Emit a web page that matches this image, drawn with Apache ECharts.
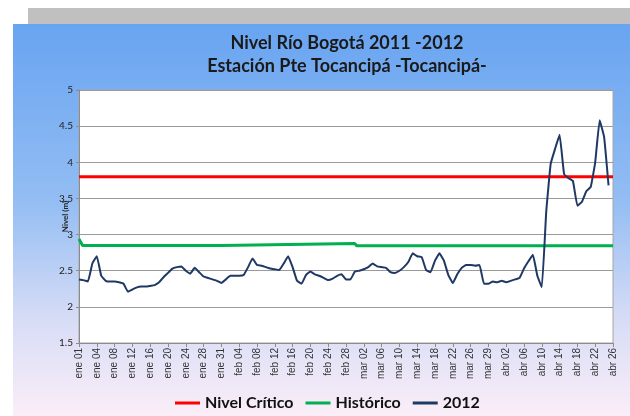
<!DOCTYPE html>
<html lang="es">
<head>
<meta charset="utf-8">
<title>Nivel Río Bogotá 2011 -2012</title>
<script src="https://cdn.jsdelivr.net/npm/echarts@6/dist/echarts.min.js"></script>
<style>
  html, body { margin: 0; padding: 0; background: #fff; }
  #main { width: 630px; height: 416px; }
</style>
</head>
<body>
<div id="main"></div>
<script type="text/javascript">
  // etiquetas del eje x (una por marca)
  var tickLabels = ['ene 01','ene 04','ene 08','ene 12','ene 16','ene 20','ene 24','ene 28','ene 31',
    'feb 04','feb 08','feb 12','feb 16','feb 20','feb 24','feb 28',
    'mar 02','mar 06','mar 10','mar 14','mar 18','mar 22','mar 26','mar 29',
    'abr 02','abr 06','abr 10','abr 14','abr 18','abr 22','abr 26'];

  // nivel 2012, 4 lecturas por intervalo de marca
  var nivel2012 = [
    2.38, 2.37, 2.35, 2.60, 2.70, 2.43, 2.36, 2.35, 2.35, 2.34,
    2.32, 2.21, 2.24, 2.27, 2.28, 2.28, 2.29, 2.30, 2.34, 2.41,
    2.47, 2.53, 2.55, 2.56, 2.50, 2.46, 2.54, 2.48, 2.42, 2.40,
    2.38, 2.36, 2.33, 2.38, 2.43, 2.43, 2.43, 2.44, 2.55, 2.67,
    2.58, 2.57, 2.55, 2.53, 2.52, 2.51, 2.60, 2.70, 2.55, 2.36,
    2.32, 2.44, 2.49, 2.45, 2.43, 2.40, 2.37, 2.39, 2.43, 2.45,
    2.38, 2.38, 2.49, 2.50, 2.52, 2.55, 2.60, 2.56, 2.55, 2.54,
    2.48, 2.47, 2.50, 2.55, 2.62, 2.74, 2.70, 2.69, 2.51, 2.48,
    2.64, 2.74, 2.64, 2.44, 2.33, 2.45, 2.54, 2.58, 2.58, 2.57,
    2.58, 2.32, 2.32, 2.35, 2.34, 2.36, 2.34, 2.36, 2.38, 2.40,
    2.53, 2.63, 2.72, 2.43, 2.27, 3.32, 3.98, 4.19, 4.38, 3.84,
    3.78, 3.74, 3.40, 3.45, 3.60, 3.66, 4.00, 4.58, 4.35, 3.68
  ];
  var paso2012 = 0.25;

  // histórico (posición en marcas, valor)
  var historicoT = [0, 0.2, 8, 8.1, 15.5, 15.6, 30];
  var historicoV = [2.94, 2.85, 2.85, 2.875, 2.875, 2.845, 2.845];

  // nivel crítico
  var criticoT = [0, 30];
  var criticoV = [3.8, 3.8];

  function pares(ts, vs) {
    var out = [];
    for (var i = 0; i < vs.length; i++) out.push([ts[i], vs[i]]);
    return out;
  }
  var datos2012 = nivel2012.map(function (v, i) { return [i * paso2012, v]; });

  var myChart = echarts.init(document.getElementById('main'));

  var option = {
    backgroundColor: '#ffffff',
    animation: false,
    textStyle: { fontFamily: 'Lato' },
    graphic: [
      { type: 'rect', z: -10, shape: { x: 28, y: 8, width: 602, height: 16 }, style: { fill: '#c0c0c0' } },
      { type: 'rect', z: -10, shape: { x: 13, y: 24, width: 617, height: 392 },
        style: { fill: new echarts.graphic.LinearGradient(0, 0, 0, 1, [
          { offset: 0, color: '#68a4f1' },
          { offset: 0.45, color: '#93bdf3' },
          { offset: 0.75, color: '#d6dcf6' },
          { offset: 1, color: '#fbeef8' }
        ]) } }
    ],
    title: [
      { text: 'Nivel Río Bogotá 2011 -2012', left: 342, top: 29, textAlign: 'center',
        textStyle: { fontFamily: 'Lato', fontSize: 18, fontWeight: 'bold', color: '#1a1a1a' } },
      { text: 'Estación Pte Tocancipá -Tocancipá-', left: 342, top: 52, textAlign: 'center',
        textStyle: { fontFamily: 'Lato', fontSize: 18, fontWeight: 'bold', color: '#1a1a1a' } }
    ],
    legend: {
      left: 170,
      top: 390,
      itemWidth: 25,
      itemHeight: 3,
      itemGap: 12,
      icon: 'rect',
      textStyle: { fontFamily: 'Lato', fontSize: 16, fontWeight: 'bold', color: '#111' },
      data: ['Nivel Crítico', 'Histórico', '2012']
    },
    grid: {
      left: 79, right: 17, top: 90, bottom: 73,
      show: true,
      backgroundColor: '#ffffff',
      borderColor: '#a6a6a6',
      borderWidth: 1
    },
    xAxis: {
      type: 'value',
      min: 0, max: 30, interval: 1,
      axisLine: { lineStyle: { color: '#8c8c8c' } },
      axisTick: { show: true, length: 4, lineStyle: { color: '#8c8c8c' } },
      splitLine: { show: false },
      axisLabel: {
        rotate: 90, fontSize: 10, color: '#333', margin: 5,
        fontFamily: 'Liberation Sans',
        formatter: function (v) { return tickLabels[Math.round(v)] || ''; }
      }
    },
    yAxis: {
      type: 'value',
      min: 1.5, max: 5, interval: 0.5,
      name: 'Nivel (m)',
      nameLocation: 'middle',
      nameGap: 10,
      nameRotate: 90,
      nameMoveOverlap: false,
      nameTextStyle: { fontSize: 8, fontWeight: 'bold', color: '#222' },
      axisLine: { show: true, lineStyle: { color: '#8c8c8c' } },
      axisTick: { show: true, length: 3, lineStyle: { color: '#8c8c8c' } },
      splitLine: { lineStyle: { color: '#9a9a9a', width: 1 } },
      axisLabel: { fontSize: 10, color: '#222', margin: 6 }
    },
    series: [
      {
        name: 'Nivel Crítico', type: 'line', showSymbol: false,
        lineStyle: { color: '#ff0000', width: 3 }, itemStyle: { color: '#ff0000' },
        data: pares(criticoT, criticoV)
      },
      {
        name: 'Histórico', type: 'line', showSymbol: false,
        lineStyle: { color: '#00b050', width: 3 }, itemStyle: { color: '#00b050' },
        data: pares(historicoT, historicoV)
      },
      {
        name: '2012', type: 'line', showSymbol: false, smooth: 0.1,
        lineStyle: { color: '#1f3864', width: 2 }, itemStyle: { color: '#1f3864' },
        data: datos2012
      }
    ]
  };

  myChart.setOption(option);
</script>
</body>
</html>
